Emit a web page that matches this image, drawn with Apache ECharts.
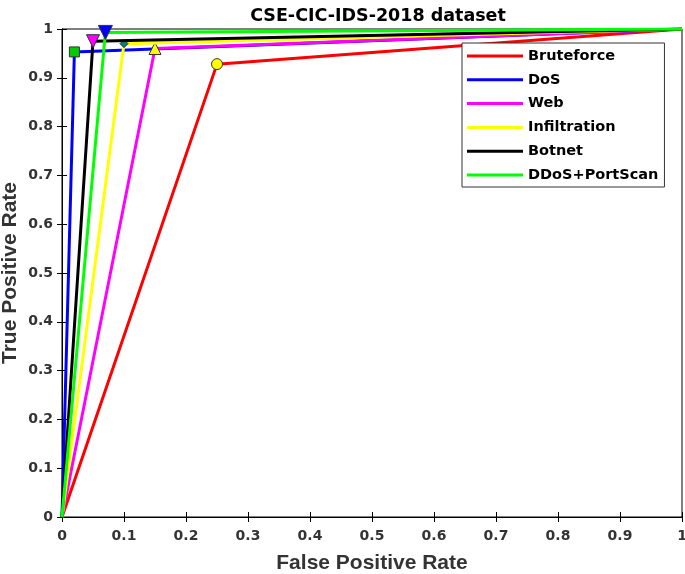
<!DOCTYPE html>
<html>
<head>
<meta charset="utf-8">
<script src="https://cdn.jsdelivr.net/npm/echarts@6/dist/echarts.min.js"></script>
<style>html,body{margin:0;padding:0;background:#fff}#c{width:685px;height:574px}</style>
</head>
<body>
<div id="c"></div>
<script>
const seriesNames = ['Bruteforce', 'DoS', 'Web', 'Infiltration', 'Botnet', 'DDoS+PortScan'];
const fprBruteforce = [0, 0.25, 1];
const tprBruteforce = [0, 0.928, 1];
const fprDoS = [0, 0.02, 1];
const tprDoS = [0, 0.953, 1];
const fprWeb = [0, 0.15, 1];
const tprWeb = [0, 0.96, 1];
const fprInfiltration = [0, 0.1, 1];
const tprInfiltration = [0, 0.97, 1];
const fprBotnet = [0, 0.05, 1];
const tprBotnet = [0, 0.975, 1];
const fprDDoS = [0, 0.07, 1];
const tprDDoS = [0, 0.993, 1];
const xTicks = ['0','0.1','0.2','0.3','0.4','0.5','0.6','0.7','0.8','0.9','1'];
const yTicks = ['0','0.1','0.2','0.3','0.4','0.5','0.6','0.7','0.8','0.9','1'];

const lineColors = ['#ff0000', '#0000ff', '#ff00ff', '#ffff00', '#000000', '#00ff00'];
const markerShapes = ['circle', 'rect', 'triangle', 'diamond', 'path://M0,-10 L10,10 L-10,10 Z', 'path://M0,-10 L10,10 L-10,10 Z'];
const markerFill = ['#ffff00', '#00cc00', '#ffff00', '#008080', '#ff00ff', '#0000ff'];
const markerSize = [11, 10, 12, 8, 13, 14];
const markerRotate = [0, 0, 0, 0, 180, 180];
const fprs = [fprBruteforce, fprDoS, fprWeb, fprInfiltration, fprBotnet, fprDDoS];
const tprs = [tprBruteforce, tprDoS, tprWeb, tprInfiltration, tprBotnet, tprDDoS];

const fontD = '"DejaVu Sans", sans-serif';
const fontL = '"Liberation Sans", Arial, sans-serif';
const series = seriesNames.map((name, i) => ({
  name: name,
  type: 'line',
  data: fprs[i].map((x, j) => ({
    value: [x, tprs[i][j]],
    symbol: j === 1 ? markerShapes[i] : 'none',
    symbolSize: markerSize[i],
    symbolRotate: markerRotate[i]
  })),
  showSymbol: true,
  lineStyle: { color: lineColors[i], width: 3 },
  itemStyle: { color: markerFill[i], borderColor: '#333', borderWidth: 1 },
  animation: false,
  z: 2 + i
}));

const chart = echarts.init(document.getElementById('c'));
chart.setOption({
  backgroundColor: '#fff',
  title: {
    text: 'CSE-CIC-IDS-2018 dataset',
    left: 373, top: 2, textAlign: 'center',
    textStyle: { fontFamily: fontD, fontWeight: 'bold', fontSize: 17.5, color: '#000' }
  },
  grid: { left: 62, right: 3, top: 29, bottom: 57, containLabel: false, outerBoundsMode: 'none',
    show: true, borderColor: '#000', borderWidth: 1 },
  legend: {
    data: seriesNames.map((n, i) => ({ name: n, icon: 'rect', itemStyle: { color: lineColors[i], borderWidth: 0 } })),
    orient: 'vertical',
    left: 462, top: 43,
    itemWidth: 56, itemHeight: 3,
    itemGap: 7.8,
    padding: [5, 6, 4, 5],
    backgroundColor: '#fff',
    borderColor: '#333', borderWidth: 1,
    textStyle: { fontFamily: fontD, fontWeight: 'bold', fontSize: 14.5, lineHeight: 16, color: '#000' }
  },
  xAxis: [{
    type: 'value', min: 0, max: 1, interval: 0.1,
    name: 'False Positive Rate', nameLocation: 'middle', nameGap: 36,
    nameTextStyle: { fontFamily: fontL, fontWeight: 'bold', fontSize: 21, color: '#333' },
    axisLine: { lineStyle: { color: '#000' } },
    axisTick: { inside: true, length: 5, lineStyle: { color: '#000' } },
    axisLabel: { fontFamily: fontD, fontWeight: 'bold', fontSize: 14, color: '#333', margin: 12,
      formatter: v => xTicks[Math.round(v * 10)] },
    splitLine: { show: false }
  }, {
    type: 'value', min: 0, max: 1, interval: 0.1, position: 'top',
    axisLine: { lineStyle: { color: '#000' } },
    axisTick: { inside: true, length: 5, lineStyle: { color: '#000' } },
    axisLabel: { show: false }, splitLine: { show: false }
  }],
  yAxis: [{
    type: 'value', min: 0, max: 1, interval: 0.1,
    name: 'True Positive Rate', nameLocation: 'middle', nameGap: 41, nameMoveOverlap: false,
    nameTextStyle: { fontFamily: fontL, fontWeight: 'bold', fontSize: 21, color: '#333' },
    axisLine: { lineStyle: { color: '#000' } },
    axisTick: { inside: true, length: 5, lineStyle: { color: '#000' } },
    axisLabel: { fontFamily: fontD, fontWeight: 'bold', fontSize: 14, color: '#333', margin: 9,
      formatter: v => yTicks[Math.round(v * 10)] },
    splitLine: { show: false }
  }, {
    type: 'value', min: 0, max: 1, interval: 0.1, position: 'right',
    axisLine: { lineStyle: { color: '#000' } },
    axisTick: { inside: true, length: 5, lineStyle: { color: '#000' } },
    axisLabel: { show: false }, splitLine: { show: false }
  }],
  series: series
});
</script>
</body>
</html>
